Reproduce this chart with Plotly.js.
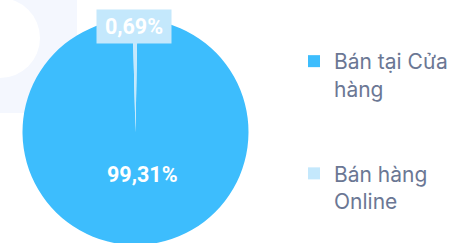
<!DOCTYPE html>
<html>
<head>
<meta charset="utf-8">
<script src="https://cdn.plot.ly/plotly-3.0.1.min.js"></script>
<style>
html,body{margin:0;padding:0;overflow:hidden;background:#fff;}
#chart{width:454px;height:250px;}
</style>
</head>
<body>
<div id="chart"></div>
<script>
var categories = ["Bán tại Cửa hàng", "Bán hàng Online"];
var legendLabels = ["Bán tại Cửa<br>hàng<br>&nbsp;<br>&nbsp;", "Bán hàng<br>Online"];
var values = [99.31, 0.69];
var colors = ["#3dbdfd", "#c4e8fc"];

var W = 454, H = 250;
var total = values.reduce(function(a,b){return a+b;},0);
function fmtPct(v){ return (v/total*100).toFixed(2).replace('.', ',') + '%'; }

var trace = {
  type: 'pie',
  labels: legendLabels,
  values: values,
  customdata: categories,
  sort: false,
  direction: 'clockwise',
  rotation: 1,
  marker: {colors: colors, line: {width: 0}},
  textinfo: 'none',
  domain: {x: [22/W, 249/W], y: [5/H, 231/H]},
  hoverinfo: 'none'
};

var labelFont = {family: 'Roboto', size: 21.5, color: '#ffffff', weight: 'bold'};

var layout = {
  width: W, height: H,
  margin: {l: 0, r: 0, t: 0, b: 0},
  paper_bgcolor: '#ffffff',
  separators: ',.',
  showlegend: true,
  legend: {
    x: 294/W, xanchor: 'left',
    y: 1 - 41/H, yanchor: 'top',
    valign: 'top',
    font: {family: 'Inter', size: 21, color: '#6b7794'},
    bgcolor: 'rgba(0,0,0,0)',
    borderwidth: 0
  },
  shapes: [
    {type: 'rect', xref: 'paper', yref: 'paper', x0: 0, x1: 77/W, y0: 1 - 113/H, y1: 1,
     fillcolor: '#f4f7fe', line: {width: 0}, layer: 'below'},
    {type: 'circle', xref: 'paper', yref: 'paper', x0: -40/W, x1: 40/W, y0: 1 - 78/H, y1: 1 + 2/H,
     fillcolor: '#ffffff', line: {width: 0}, layer: 'below'}
  ],
  annotations: [
    {xref: 'paper', yref: 'paper', x: 134/W, y: 1 - 26.5/H, xanchor: 'center', yanchor: 'middle',
     text: fmtPct(values[1]), showarrow: false, font: labelFont,
     bgcolor: colors[1], width: 74, height: 33, borderpad: 0},
    {xref: 'paper', yref: 'paper', x: 142.5/W, y: 1 - 174/H, xanchor: 'center', yanchor: 'middle',
     text: fmtPct(values[0]), showarrow: false, font: labelFont}
  ]
};

Plotly.newPlot('chart', [trace], layout, {displayModeBar: false, staticPlot: true});
</script>
</body>
</html>
